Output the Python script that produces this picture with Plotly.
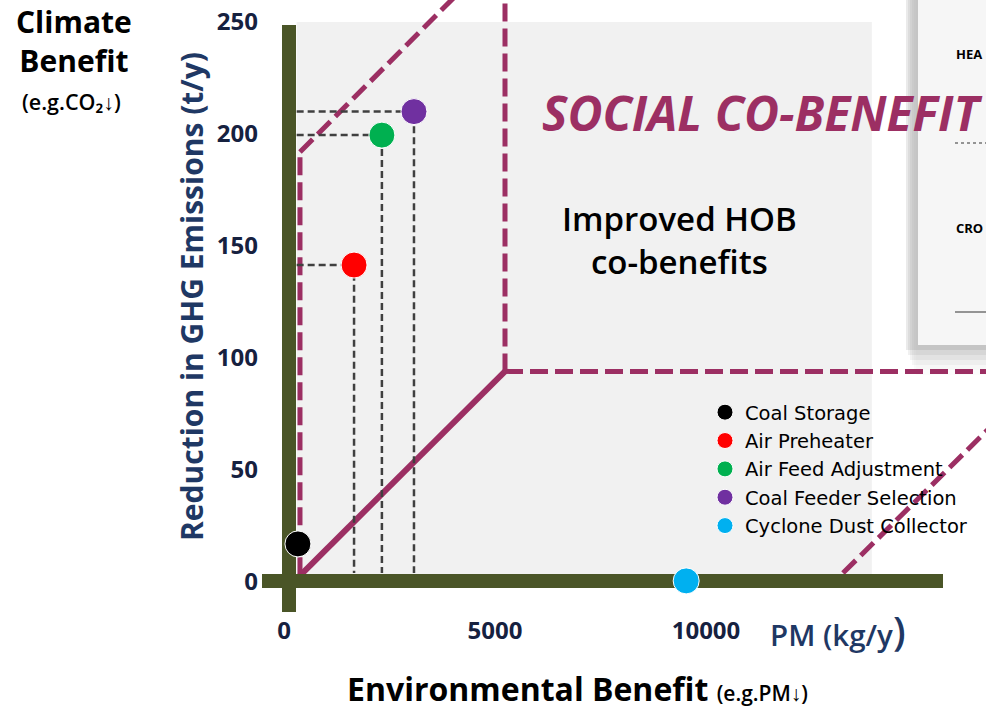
import plotly.graph_objects as go

# ---------------- data ----------------
measures = ["Coal Storage", "Air Preheater", "Air Feed Adjustment",
            "Coal Feeder Selection", "Cyclone Dust Collector"]
pm_reduction = [330, 1660, 2320, 3080, 9530]        # kg/y
ghg_reduction = [17, 141.5, 199.5, 210, 0.5]        # t/y
colors = ["#000000", "#ff0000", "#00b050", "#7030a0", "#00b0f0"]
show_drop = [False, True, True, True, False]

x_ticks = [0, 5000, 10000]
y_ticks = [0, 50, 100, 150, 200, 250]

# ---------------- layout constants ----------------
W, H = 986, 709
PX_X0, PX_PER_X = 284, 0.0422     # pixel of x=0, px per unit
PX_Y0, PX_PER_Y = 582, 2.24       # pixel of y=0, px per unit
x_range = [-PX_X0 / PX_PER_X, (W - PX_X0) / PX_PER_X]
y_range = [-(H - PX_Y0) / PX_PER_Y, PX_Y0 / PX_PER_Y]

MAGENTA = "#9c2f63"
OLIVE = "#4a5527"
NAVY = "#1f3864"
TICK = "#16213f"
FONT = "Open Sans"

fig = go.Figure()

# drop lines to the axes
for x, y, show in zip(pm_reduction, ghg_reduction, show_drop):
    if show:
        fig.add_trace(go.Scatter(
            x=[300, x, x], y=[y, y, 4], mode="lines",
            line=dict(color="#404040", width=2.5, dash="7px,4px"),
            showlegend=False, hoverinfo="skip"))

# data points
for name, x, y, c in zip(measures, pm_reduction, ghg_reduction, colors):
    fig.add_trace(go.Scatter(
        x=[x], y=[y], mode="markers", name=name,
        marker=dict(color=c, size=26, line=dict(color="white", width=1))))

shapes = []
# gray panel
shapes.append(dict(type="rect", xref="x", yref="y", x0=300, x1=13930,
                   y0=3, y1=250, fillcolor="#f1f1f1", line_width=0,
                   layer="below"))
# card from another slide (top right) with shadow
for i, op in enumerate([0.12, 0.09, 0.07, 0.05, 0.03, 0.02]):
    shapes.append(dict(type="rect", xref="paper", yref="paper",
                       x0=(906 + 2 * i) / W, x1=1.02, y0=1 - (350 + 5 * i) / H,
                       y1=1.02, fillcolor="#555555", opacity=op,
                       line_width=0, layer="below"))
shapes.append(dict(type="rect", xref="paper", yref="paper",
                   x0=918 / W, x1=1.02, y0=1 - 345 / H, y1=1.02,
                   fillcolor="#f6f6f6", line_width=0, layer="below"))
shapes.append(dict(type="line", xref="paper", yref="paper",
                   x0=955 / W, x1=1.0, y0=1 - 143 / H, y1=1 - 143 / H,
                   line=dict(color="#333333", width=1, dash="dot"),
                   layer="below"))
shapes.append(dict(type="line", xref="paper", yref="paper",
                   x0=955 / W, x1=1.0, y0=1 - 312 / H, y1=1 - 312 / H,
                   line=dict(color="#333333", width=1), layer="below"))

# zone boundaries
dash = "18px,7px"
zone_lines = [
    (379, 3, 379, 192, dash),           # left vertical
    (379, 192, 4455, 269, dash),        # upper diagonal
    (5237, 94, 5237, 270, dash),        # middle vertical
    (5237, 94, 17000, 94, dash),        # horizontal
    (13246, 4, 17000, 74, dash),        # lower-right diagonal
    (332, 2, 5237, 94, "solid"),        # solid diagonal
]
for x0, y0, x1, y1, d in zone_lines:
    shapes.append(dict(type="line", xref="x", yref="y", x0=x0, y0=y0,
                       x1=x1, y1=y1, layer="between",
                       line=dict(color=MAGENTA, width=5 if d != "solid" else 6,
                                 dash=d)))
# thick olive axes
shapes.append(dict(type="rect", xref="x", yref="y",
                   x0=(262 - PX_X0) / PX_PER_X, x1=(943 - PX_X0) / PX_PER_X,
                   y0=(PX_Y0 - 588) / PX_PER_Y, y1=(PX_Y0 - 574) / PX_PER_Y,
                   fillcolor=OLIVE, line_width=0, layer="between"))
shapes.append(dict(type="rect", xref="x", yref="y",
                   x0=(282 - PX_X0) / PX_PER_X, x1=(296 - PX_X0) / PX_PER_X,
                   y0=(PX_Y0 - 612) / PX_PER_Y, y1=(PX_Y0 - 25) / PX_PER_Y,
                   fillcolor=OLIVE, line_width=0, layer="between"))


def pa(px, py, text, size, color="black", weight=700, xanchor="center",
       italic=False, angle=0, family=FONT):
    t = text
    if italic:
        t = "<i>" + t + "</i>"
    return dict(xref="paper", yref="paper", x=px / W, y=1 - py / H, text=t,
                showarrow=False, xanchor=xanchor, yanchor="middle",
                textangle=angle,
                font=dict(size=size, color=color, family=family,
                          weight=weight))


annotations = [
    pa(74, 41, "Climate<br>Benefit", 30),
    pa(71, 101, "(e.g.CO₂↓)", 21.5, weight=600),
    pa(577, 688, "Environmental Benefit <span style='font-size:21px;font-weight:600'>(e.g.PM↓)</span>", 32),
    pa(838, 630, "PM (kg/y<span style='font-size:40px'>)</span>", 29.5,
       color=NAVY, weight=600),
    pa(191, 297, "Reduction in GHG Emissions (t/y)", 30, color=NAVY,
       angle=-90),
    pa(679, 240, "Improved HOB<br>co-benefits", 33, weight=600),
    pa(540, 113, "SOCIAL CO-BENEFIT", 48, color=MAGENTA, italic=True,
       xanchor="left"),
    pa(954, 54, "HEA", 13, xanchor="left"),
    pa(954, 228, "CRO", 13, xanchor="left"),
]

fig.update_layout(
    width=W, height=H, margin=dict(l=0, r=0, t=0, b=0),
    paper_bgcolor="white", plot_bgcolor="white",
    shapes=shapes, annotations=annotations,
    font=dict(family=FONT),
    xaxis=dict(range=x_range, tickvals=x_ticks,
               ticktext=[str(v) for v in x_ticks],
               showgrid=False, zeroline=False, showline=False, ticks="",
               anchor="free", position=(H - 612) / H, automargin=False,
               tickfont=dict(size=24, color=TICK, family=FONT, weight=700),
               ticklabelstandoff=2),
    yaxis=dict(range=y_range, tickvals=y_ticks,
               ticktext=[str(v) for v in y_ticks],
               showgrid=False, zeroline=False, showline=False, ticks="",
               anchor="free", position=258 / W, automargin=False,
               tickfont=dict(size=24, color=TICK, family=FONT, weight=700)),
    legend=dict(x=705 / W, y=1 - 393 / H, xanchor="left", yanchor="top",
                bgcolor="rgba(0,0,0,0)",
                font=dict(size=19.5, color="black", family="DejaVu Sans"),
                itemclick=False),
)

fig.write_html("out.html", config={"displayModeBar": False},
               post_script="document.body.style.margin='0px';")
